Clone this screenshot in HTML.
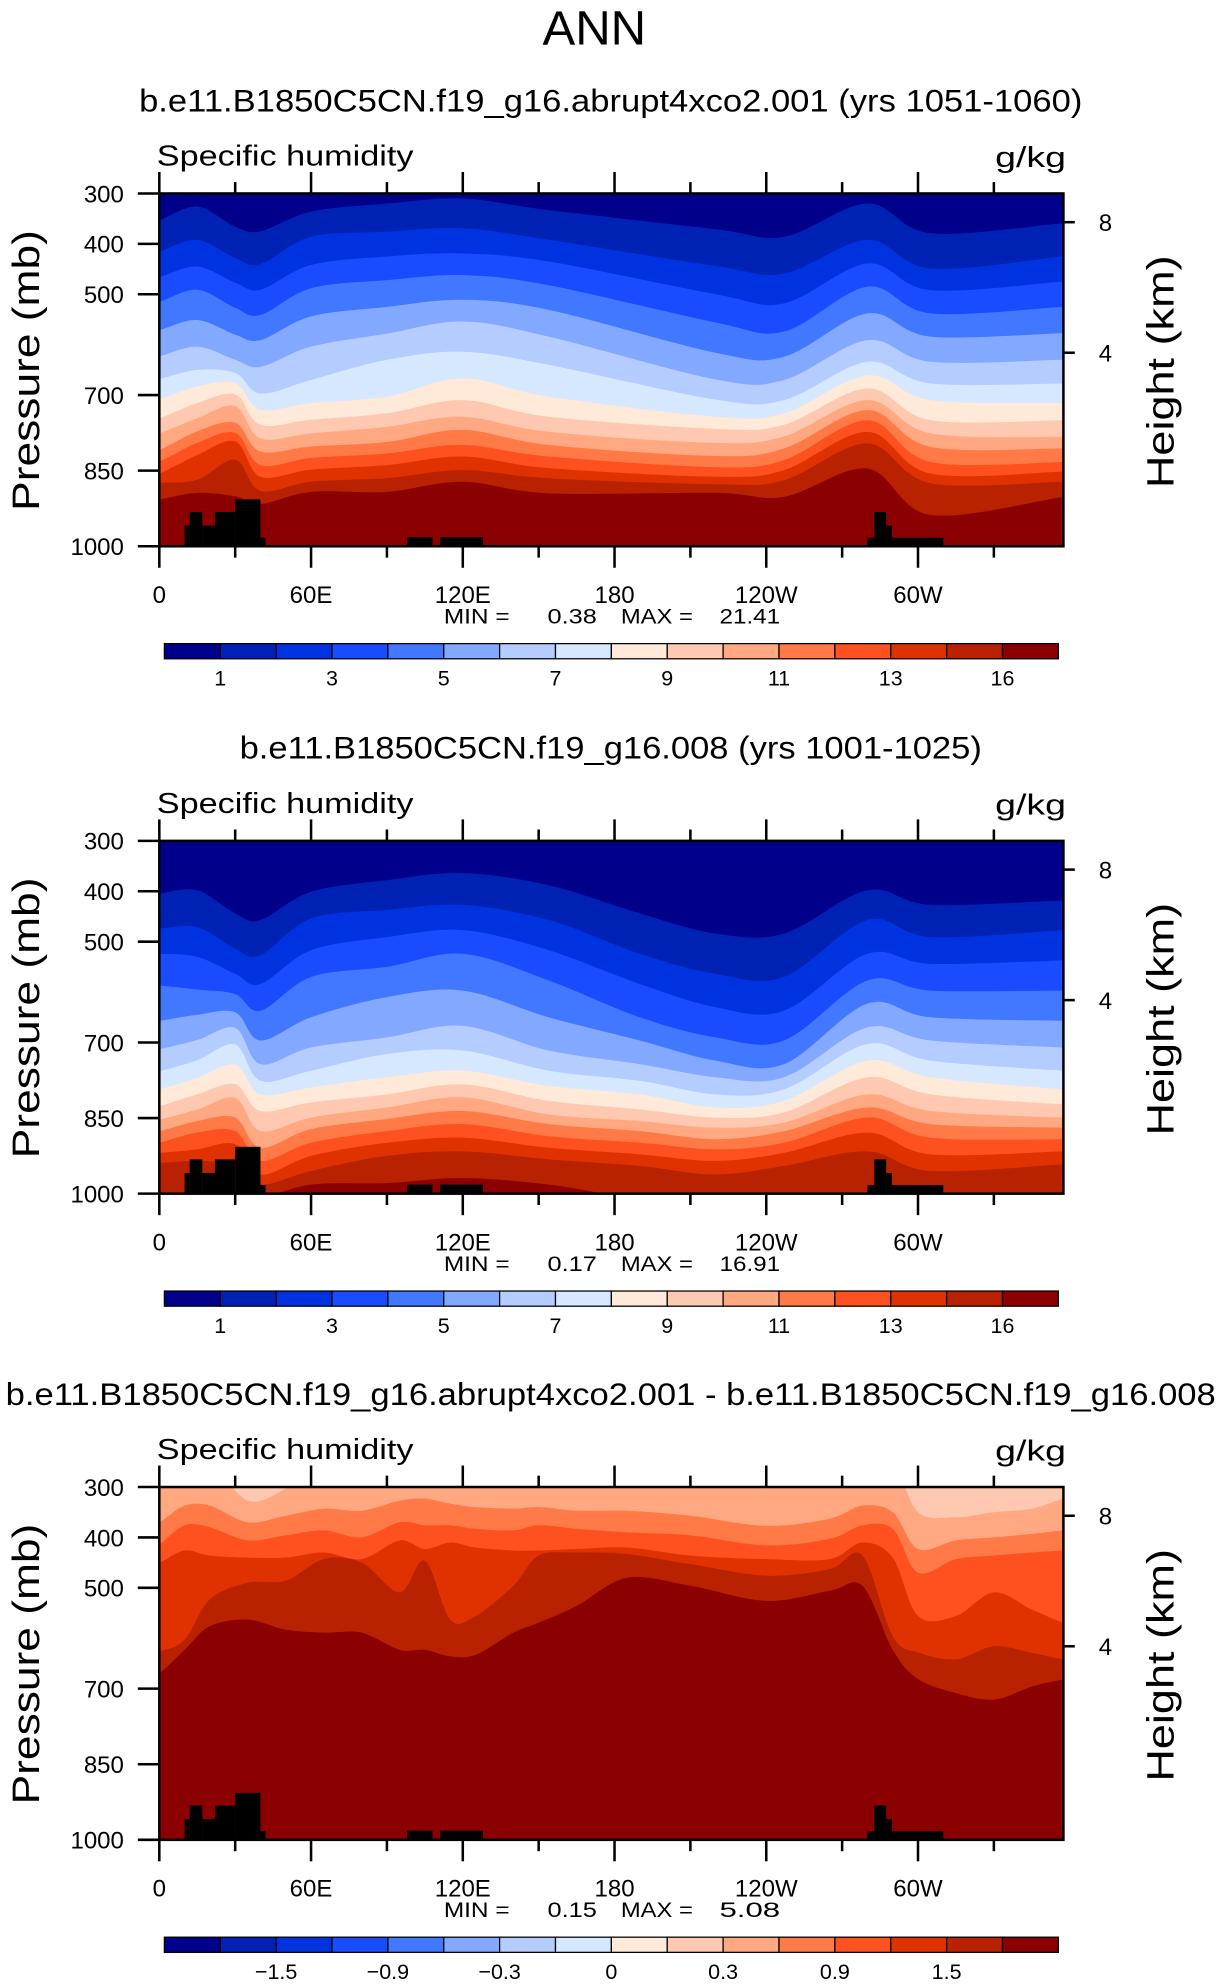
<!DOCTYPE html>
<html><head><meta charset="utf-8"><style>
html,body{margin:0;padding:0;background:#fff;}
svg{display:block;}
text{font-family:"Liberation Sans",sans-serif;fill:#000;}
</style></head><body>
<svg id="fig" width="1224" height="1987" viewBox="0 0 968 1571.4" preserveAspectRatio="none" xmlns="http://www.w3.org/2000/svg">
<text x="470" y="35" font-size="38" text-anchor="middle" textLength="82" lengthAdjust="spacingAndGlyphs" font-weight="300">ANN</text>
<g id="panels"></g>
</svg>
<script>
const colors = ['#00008B','#0022B4','#0033E0','#1A4CFF','#4277FF','#82A8FF','#B4CCFF','#D6E8FF','#FFE9D8','#FFC8B0','#FFA882','#FF7A46','#FF5020','#E03200','#B82200','#8B0000'];
const yTicks = [300,400,500,700,850,1000];
const xTickLons = [0,60,120,180,240,300];
const xTickLabels = ['0','60E','120E','180','120W','60W'];
const heightTicksKm = ['8','4'];
const heightTickP = [357,616];
const cbLabels1 = ['1','3','5','7','9','11','13','16'];
const cbLabels3 = ['\u22121.5','\u22120.9','\u22120.3','0','0.3','0.9','1.5'];
const titles = ['b.e11.B1850C5CN.f19_g16.abrupt4xco2.001 (yrs 1051-1060)','b.e11.B1850C5CN.f19_g16.008 (yrs 1001-1025)','b.e11.B1850C5CN.f19_g16.abrupt4xco2.001 - b.e11.B1850C5CN.f19_g16.008'];
const titleWidths = [746,587,957];
const minVals = ['0.38','0.17','0.15'];
const maxVals = ['21.41','16.91','5.08'];
// topography blocks: [lonStart, lonEnd, surfacePressure]
const topoBlocks = [[10,12,959],[12,17,932],[17,22,959],[22,30,932],[30,40,907],[40,42,983],[98,108,982],[111,128,982],[280,282.7,983],[282.7,287.4,932],[287.4,289.7,959],[289.7,310,983]];
// Panel 1: boundary pressures (15 contour boundaries) at each longitude
const lons1 = [0,15,30,40,60,90,120,154,220,247,280,305,357.5];
const cols1 = [
[353,415,466,515,571,623,668,708,746,776,809,832,856,874,907],
[326,392,445,491,551,604,650,683,716,746,772,795,819,868,894],
[366,428,477,527,580,630,656,676,699,722,755,775,792,828,901],
[375,440,491,541,591,644,697,729,759,786,812,839,862,890,916],
[336,386,442,488,544,604,670,716,749,776,802,825,848,872,892],
[320,376,425,472,525,578,630,703,736,763,793,816,839,865,892],
[310,369,419,462,511,554,614,667,710,743,769,799,822,849,872],
[333,392,435,482,531,584,640,703,743,773,799,822,845,865,895],
[371,444,500,556,616,669,709,743,767,795,821,843,862,877,894],
[386,459,518,574,624,670,710,736,759,782,806,829,849,869,902],
[320,392,439,485,538,591,634,661,687,710,730,750,773,796,846],
[379,449,492,538,584,634,677,710,750,776,803,833,856,875,938],
[359,425,475,525,577,630,677,716,750,783,806,833,852,872,902]];
// Panel 2
const lons2 = [0,15,30,40,60,90,120,154,190,220,247,280,305,357.5];
const cols2 = [
[404,474,524,587,657,713,757,793,826,853,876,899,919,939,1010],
[398,471,530,595,645,695,735,770,803,833,856,879,912,935,1010],
[444,514,564,604,640,671,704,744,783,810,849,876,902,942,1010],
[457,527,584,637,696,743,776,803,836,876,909,935,962,982,1010],
[401,454,517,570,650,710,756,789,819,849,872,899,925,955,982],
[378,437,491,550,610,690,723,769,803,829,852,876,899,925,979],
[364,427,477,524,597,667,716,756,783,809,836,862,889,916,969],
[388,457,517,577,650,716,756,786,816,843,862,886,909,932,982],
[444,524,584,650,696,743,776,803,833,856,876,899,922,945,1010],
[484,564,630,690,736,769,803,829,849,869,892,912,935,962,1010],
[484,570,637,696,743,769,793,816,839,859,876,899,919,945,1010],
[398,457,524,577,623,670,703,736,769,803,829,849,879,916,1010],
[427,491,544,597,650,696,736,769,803,836,862,889,922,955,1010],
[418,477,537,597,657,710,756,793,823,849,869,892,916,942,1010]];
// Panel 3 (difference): boundaries 10..15 only (lower ones lie above 300 mb)
const lons3 = [0,10,20,35,50,65,80,95,105,115,125,140,150,165,185,210,240,265,278,290,300,315,330,345,357.5];
const cols3 = [
[250,370,413,450,626,669],[250,337,376,426,603,623],[250,337,380,436,523,576],[327,370,406,440,490,563],
[303,357,396,440,486,583],[250,343,386,430,443,589],[250,347,400,443,450,589],[250,327,370,406,509,623],
[250,323,376,423,446,623],[250,333,376,410,563,636],[250,340,383,420,556,633],[250,343,386,426,496,589],
[250,340,376,426,436,569],[250,347,383,423,430,536],[250,347,390,420,433,480],[250,357,396,436,453,496],
[303,377,416,443,476,526],[250,363,403,443,463,506],[250,337,376,410,436,496],[250,350,383,440,596,623],
[350,423,470,556,628,681],[360,406,443,556,642,709],[350,400,436,509,616,722],[343,393,430,543,629,696],
[323,386,426,569,642,682]];
const panelData = [
 {lons:lons1, cols:cols1, first:0, bg:0, cb:cbLabels1, cbStart:1},
 {lons:lons2, cols:cols2, first:0, bg:0, cb:cbLabels1, cbStart:1},
 {lons:lons3, cols:cols3, first:9, bg:9, cb:cbLabels3, cbStart:2}];

const NS='http://www.w3.org/2000/svg';
const X0=126, X1=841, PH=279;
function xS(lon){return X0+2*lon;}
function mk(tag,attrs,parent){const e=document.createElementNS(NS,tag);for(const k in attrs)e.setAttribute(k,attrs[k]);parent.appendChild(e);return e;}
function smoothPath(pts){
  let d='M'+pts[0][0].toFixed(2)+','+pts[0][1].toFixed(2);
  for(let i=0;i<pts.length-1;i++){
    const p0=pts[Math.max(0,i-1)],p1=pts[i],p2=pts[i+1],p3=pts[Math.min(pts.length-1,i+2)];
    const c1=[p1[0]+(p2[0]-p0[0])/6,p1[1]+(p2[1]-p0[1])/6];
    const c2=[p2[0]-(p3[0]-p1[0])/6,p2[1]-(p3[1]-p1[1])/6];
    d+='C'+c1[0].toFixed(2)+','+c1[1].toFixed(2)+' '+c2[0].toFixed(2)+','+c2[1].toFixed(2)+' '+p2[0].toFixed(2)+','+p2[1].toFixed(2);
  }
  return d;
}
const root=document.getElementById('panels');
panelData.forEach((pd,pi)=>{
  const off=[0,512,1023][pi];
  const top=153+off, bot=top+PH;
  const yS=p=>top+(p-300)*PH/700;
  const g=mk('g',{},root);
  
  
  const t=mk('text',{x:483,y:88+off,'font-size':25,'text-anchor':'middle',textLength:titleWidths[pi],lengthAdjust:'spacingAndGlyphs'},g);
  t.textContent=titles[pi];
  
  
  const v=mk('text',{x:124,y:131+off,'font-size':23,textLength:203,lengthAdjust:'spacingAndGlyphs','font-weight':'300'},g);
  v.textContent='Specific humidity';
  
  
  const u=mk('text',{x:843,y:132+off,'font-size':23,'text-anchor':'end',textLength:56,lengthAdjust:'spacingAndGlyphs'},g);
  u.textContent='g/kg';
  
  
  const cid='clip'+pi;
  const cp=mk('clipPath',{id:cid},g);
  mk('rect',{x:X0,y:top,width:X1-X0,height:PH},cp);
  const fg=mk('g',{'clip-path':'url(#'+cid+')'},g);
  
  
  const bgr=mk('rect',{x:X0,y:top,width:X1-X0,height:PH,fill:colors[pd.bg]},fg);
  
  
  const nb=pd.cols[0].length;
  for(let k=0;k<nb;k++){
    const pts=pd.lons.map((lon,i)=>[xS(lon),yS(pd.cols[i][k])]);
    pts.unshift([xS(pd.lons[0])-10,pts[0][1]]);
    pts.push([xS(pd.lons[pd.lons.length-1])+10,pts[pts.length-1][1]]);
    let d=smoothPath(pts);
    d+='L'+(X1+20)+','+(bot+50)+'L'+(X0-20)+','+(bot+50)+'Z';
    const band=mk('path',{d:d,fill:colors[pd.first+k+1]},fg);
    
    
  }
  topoBlocks.forEach(b=>{
    const r=mk('rect',{x:xS(b[0]),y:yS(b[2]),width:xS(b[1])-xS(b[0]),height:bot-yS(b[2])+2,fill:'#000'},fg);
    
    
  });
  const fr=mk('rect',{x:X0,y:top,width:X1-X0,height:PH,fill:'none',stroke:'#000','stroke-width':2},g);
  
  
  yTicks.forEach(p=>{
    const y=yS(p);
    const tk=mk('line',{x1:X0-17,x2:X0,y1:y,y2:y,stroke:'#000','stroke-width':2},g);
    
    
    const tl=mk('text',{x:98,y:y+7,'font-size':19,'text-anchor':'end'},g);
    tl.textContent=String(p);
    
    
  });
  for(let lon=0;lon<=330;lon+=30){
    const major=lon%60===0, L=major?17:9;
    [[top-L,top],[bot,bot+L]].forEach(s=>{
      const tk=mk('line',{x1:xS(lon),x2:xS(lon),y1:s[0],y2:s[1],stroke:'#000','stroke-width':2},g);
      
      
    });
  }
  xTickLons.forEach((lon,i)=>{
    const tl=mk('text',{x:xS(lon),y:477+off,'font-size':19,'text-anchor':'middle'},g);
    tl.textContent=xTickLabels[i];
    
    
  });
  heightTicksKm.forEach((h,i)=>{
    const y=yS(heightTickP[i]);
    const tk=mk('line',{x1:X1,x2:X1+9,y1:y,y2:y,stroke:'#000','stroke-width':2},g);
    
    
    const tl=mk('text',{x:869,y:y+7,'font-size':19},g);
    tl.textContent=h;
    
    
  });
  const yt=mk('text',{x:0,y:0,'font-size':30,'text-anchor':'middle',textLength:222,lengthAdjust:'spacingAndGlyphs','font-weight':'300',transform:'translate(31,'+(293+off)+') rotate(-90)'},g);
  yt.textContent='Pressure (mb)';
  
  
  const ht=mk('text',{x:0,y:0,'font-size':30,'text-anchor':'middle',textLength:184,lengthAdjust:'spacingAndGlyphs','font-weight':'300',transform:'translate(928,'+(294+off)+') rotate(-90)'},g);
  ht.textContent='Height (km)';
  
  
  [['MIN =',351,52],[minVals[pi],433,39],['MAX =',491,57],[maxVals[pi],569,48]].forEach(a=>{
    const m=mk('text',{x:a[1],y:493+off,'font-size':17,textLength:a[2],lengthAdjust:'spacingAndGlyphs'},g);
    m.textContent=a[0];
    
    
  });
  const cw=(837-130)/16;
  const cbg=mk('g',{},g);
  
  
  colors.forEach((c,i)=>{
    const r=mk('rect',{x:130+i*cw,y:509+off,width:cw,height:12,fill:c,stroke:'#000','stroke-width':1},cbg);
    
    
  });
  pd.cb.forEach((lab,i)=>{
    const tl=mk('text',{x:130+(pd.cbStart+2*i)*cw,y:542+off,'font-size':17,'text-anchor':'middle'},cbg);
    tl.textContent=lab;
    
    
  });
});
</script>
</body></html>
